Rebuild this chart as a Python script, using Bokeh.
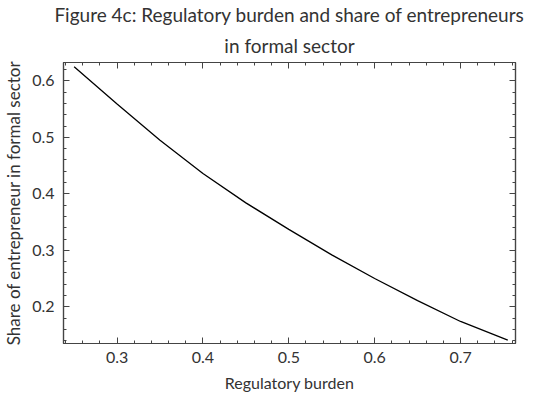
from bokeh.plotting import figure
from bokeh.models import LinearAxis, Title, Range1d, SingleIntervalTicker, CustomJSTickFormatter
from bokeh.embed import file_html
from bokeh.resources import INLINE

# data
burden = [0.25, 0.30, 0.35, 0.40, 0.45, 0.50, 0.55, 0.60, 0.65, 0.70, 0.755]
share = [0.625, 0.559, 0.495, 0.436, 0.384, 0.337, 0.292, 0.250, 0.211, 0.174, 0.141]

title_line1 = "Figure 4c: Regulatory burden and share of entrepreneurs"
title_line2 = "in formal sector"
x_label = "Regulatory burden"
y_label = "Share of entrepreneur in formal sector"

FONT = "Lato"
TXT = "#333333"
AX = "#444444"

p = figure(frame_width=452, frame_height=281, output_backend="svg", toolbar_location=None,
           x_range=Range1d(0.2376, 0.764), y_range=Range1d(0.135, 0.6325),
           min_border_left=56, min_border_right=15, min_border_top=58,
           min_border_bottom=46, title=None)
p.grid.visible = False
p.outline_line_color = AX
p.outline_line_width = 1.2

p.line(burden, share, line_color="black", line_width=1.3)

def style(ax, labels=True):
    ax.ticker = SingleIntervalTicker(interval=0.1, num_minor_ticks=5)
    ax.major_tick_in = 6
    ax.major_tick_out = 0
    ax.minor_tick_in = 3
    ax.minor_tick_out = 0
    ax.axis_line_color = AX
    ax.major_tick_line_color = AX
    ax.minor_tick_line_color = AX
    ax.axis_line_width = 1.2
    if labels:
        ax.major_label_text_font = FONT
        ax.major_label_text_font_size = "16px"
        ax.major_label_text_color = TXT
        ax.axis_label_text_font = FONT
        ax.axis_label_text_font_size = "16px"
        ax.axis_label_text_color = TXT
        ax.axis_label_text_font_style = "normal"
    else:
        ax.formatter = CustomJSTickFormatter(code="return '';")
        ax.major_label_standoff = 0
        ax.axis_label_standoff = 0

style(p.xaxis[0])
style(p.yaxis[0])
p.xaxis[0].axis_label = x_label
p.yaxis[0].axis_label = y_label
p.yaxis[0].axis_label_text_font_size = "17px"
p.xaxis[0].major_label_standoff = 8
p.yaxis[0].major_label_standoff = 9
p.xaxis[0].axis_label_standoff = 7
p.yaxis[0].axis_label_standoff = 5

top_ax = LinearAxis()
style(top_ax, labels=False)
p.add_layout(top_ax, "above")
right_ax = LinearAxis()
style(right_ax, labels=False)
p.add_layout(right_ax, "right")

p.add_layout(Title(text=title_line2, align="center", text_font=FONT,
                   text_font_size="19px", text_font_style="normal",
                   text_color=TXT, standoff=12), "above")
p.add_layout(Title(text=title_line1, align="center", text_font=FONT,
                   text_font_size="19px", text_font_style="normal",
                   text_color=TXT, standoff=0), "above")

open("out.html", "w").write(file_html(p, INLINE))
